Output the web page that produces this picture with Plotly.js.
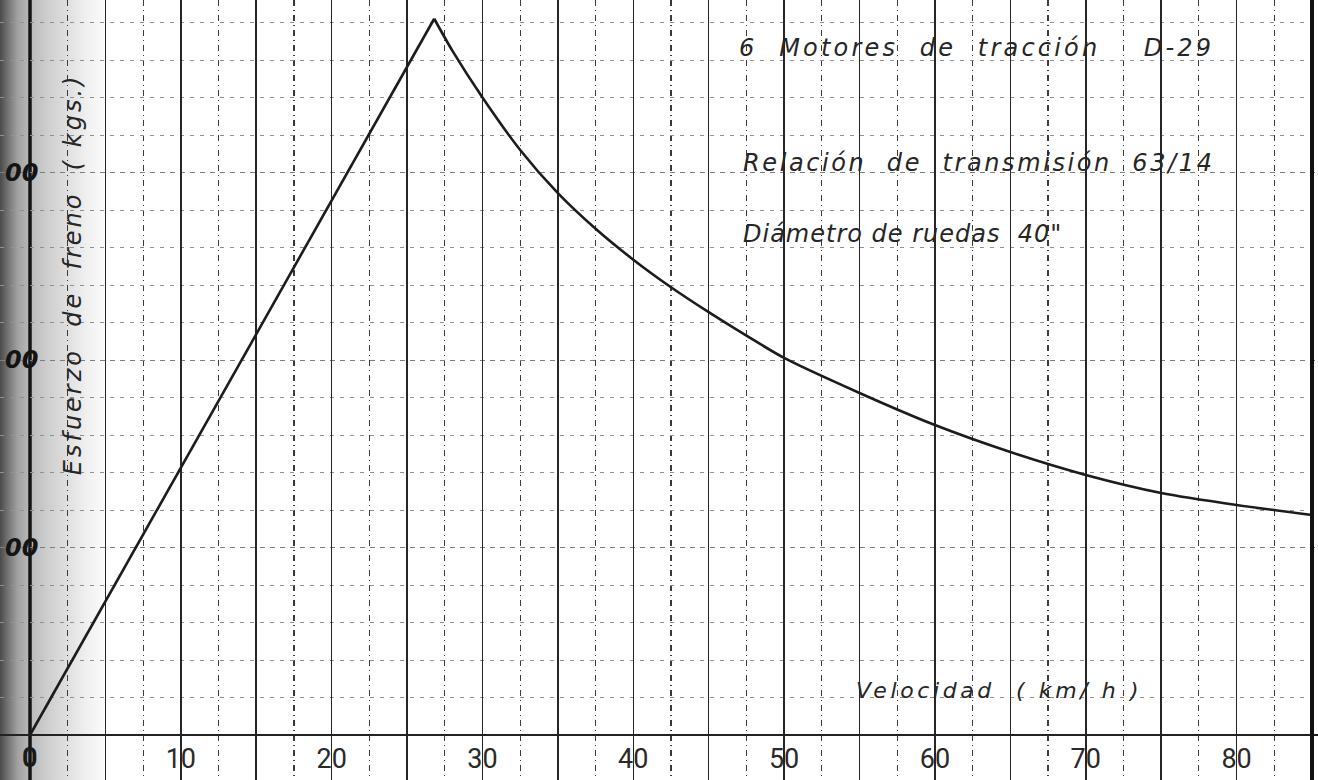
<!DOCTYPE html>
<html>
<head>
<meta charset="utf-8">
<script src="https://cdn.plot.ly/plotly-3.0.1.min.js"></script>
<style>
  html, body { margin: 0; padding: 0; }
  body {
    width: 1318px; height: 780px; overflow: hidden;
    background: linear-gradient(to right, #4a4a4a 0px, #747474 8px, #a2a2a2 18px, #bdbdbd 32px, #cecece 48px, #e0e0e0 68px, #f1f1f1 88px, #ffffff 112px);
  }
  #chart { width: 1318px; height: 780px; }
</style>
</head>
<body>
<div id="chart"></div>
<script>
// Speed (km/h) and braking effort
const speedKmh = [0, 26.8, 28, 30, 32.5, 35, 37.5, 40, 42.5, 45, 47.5, 50, 55, 60, 65, 70, 75, 80, 85];
const brakeEffort = [0, 3820, 3650, 3400, 3120, 2890, 2700, 2535, 2388, 2255, 2130, 2011, 1824, 1653, 1509, 1387, 1291, 1227, 1173];
const peakIndex = 1; // the rising straight line ends here, the falling curve starts here

// Axis ticks
const xTickVals = [10, 20, 30, 40, 50, 60, 70, 80];
const xTickText = ['10', '20', '30', '40', '50', '60', '70', '80'];
const yTickVals = [1000, 2000, 3000];
const yTickText = ['00', '00', '00']; // only the last digits are legible at the scan edge
const xMin = 0;
const xMax = 85;

// Texts
const nb = n => '\u00a0'.repeat(n);
const noteLines = [
  '6' + nb(2) + 'Motores' + nb(2) + 'de' + nb(2) + 'tracción' + nb(4) + 'D-29',
  'Relación' + nb(2) + 'de' + nb(2) + 'transmisión' + nb(2) + '63/14',
  'Diámetro' + nb(1) + 'de' + nb(1) + 'ruedas' + nb(2) + '40"'
];
const xTitle = 'Velocidad' + nb(2) + '(' + nb(1) + 'km/' + nb(1) + 'h' + nb(1) + ')';
const yTitle = 'Esfuerzo' + nb(2) + 'de' + nb(2) + 'freno' + nb(2) + '(' + nb(1) + 'kgs.)';
const spaced = (t, ls) => '<span style="letter-spacing:' + ls + 'px">' + t + '</span>';

const pxPerUnitX = (1312 - 30) / xMax;
const xRange = [-30 / pxPerUnitX, xMax + 6 / pxPerUnitX];
const yRange = [-240, 3920];

const ink = '#1c1c1c';
const textColor = '#262626';
const noteFont = { family: 'DejaVu Sans', size: 24, color: textColor, style: 'italic' };

const riseTrace = {
  x: speedKmh.slice(0, peakIndex + 1), y: brakeEffort.slice(0, peakIndex + 1),
  type: 'scatter', mode: 'lines', line: { color: ink, width: 2.6 },
  hoverinfo: 'skip', showlegend: false
};
const fallTrace = {
  x: speedKmh.slice(peakIndex), y: brakeEffort.slice(peakIndex),
  type: 'scatter', mode: 'lines', line: { color: ink, width: 2.6, shape: 'spline', smoothing: 0.7 },
  hoverinfo: 'skip', showlegend: false
};

const annotations = [
  { text: spaced(noteLines[0], 3.2), x: 0.5595, y: 3664 },
  { text: spaced(noteLines[1], 2.6), x: 0.5625, y: 3051 },
  { text: spaced(noteLines[2], 1.0), x: 0.5625, y: 2672 }
].map(a => ({
  text: a.text, xref: 'paper', yref: 'y', x: a.x, y: a.y,
  xanchor: 'left', yanchor: 'middle', showarrow: false, font: noteFont
}));
annotations.push({
  text: spaced(xTitle, 3.6), xref: 'paper', yref: 'y', x: 0.648, y: 240,
  xanchor: 'left', yanchor: 'middle', showarrow: false,
  font: { family: 'DejaVu Sans', size: 22, color: textColor, style: 'italic' }
});
annotations.push({
  text: spaced(yTitle, 3), xref: 'paper', yref: 'y', x: 0.055, y: 2460,
  xanchor: 'center', yanchor: 'middle', textangle: -90, showarrow: false,
  font: { family: 'DejaVu Sans', size: 24, color: textColor, style: 'italic' }
});
// the origin "0" under the axes
annotations.push({
  text: '<b>0</b>', xref: 'x', yref: 'y', x: xMin, y: -120,
  xanchor: 'center', yanchor: 'middle', showarrow: false,
  font: { family: 'Roboto', size: 27, color: '#1a1a1a' }
});

const layout = {
  width: 1318, height: 780,
  margin: { l: 0, r: 0, t: 0, b: 0, pad: 0 },
  paper_bgcolor: 'rgba(0,0,0,0)', plot_bgcolor: 'rgba(0,0,0,0)',
  showlegend: false,
  xaxis: {
    range: xRange, tickmode: 'array', tickvals: xTickVals, ticktext: xTickText,
    ticks: '', ticklabelposition: 'inside', ticklabelstandoff: 4,
    tickfont: { family: 'Roboto', size: 27, color: '#2a2a2a' },
    showgrid: false, zeroline: false, showline: false,
    minor: { tickmode: 'linear', tick0: 0, dtick: 2.5, showgrid: true, ticks: '', gridcolor: '#3a3a3a', gridwidth: 1.2, griddash: '6px,4px,1px,4px' }
  },
  xaxis2: {
    overlaying: 'x', range: xRange, tickmode: 'linear', tick0: 0, dtick: 5,
    showticklabels: false, ticks: '', showgrid: true, gridcolor: '#262626', gridwidth: 1.5,
    zeroline: false, showline: false, matches: 'x'
  },
  yaxis: {
    range: yRange, tickmode: 'array', tickvals: yTickVals, ticktext: yTickText,
    ticks: '', ticklabelposition: 'inside', ticklabelstandoff: 2,
    tickfont: { family: 'DejaVu Sans', size: 24, color: '#141414', style: 'italic', weight: 'bold' },
    showgrid: true, gridcolor: '#7e7e7e', gridwidth: 1, griddash: '5px,5px',
    zeroline: true, zerolinecolor: '#222', zerolinewidth: 2.2,
    showline: false,
    minor: { tickmode: 'linear', tick0: 0, dtick: 200, showgrid: true, ticks: '', gridcolor: '#909090', gridwidth: 1, griddash: '4px,6px' }
  },
  shapes: [
    // speed axis origin line (vertical axis of the sheet)
    { type: 'line', xref: 'x', yref: 'paper', x0: xMin, x1: xMin, y0: 0, y1: 1,
      line: { color: '#141414', width: 3.5 }, layer: 'below' },
    // right border of the sheet at the end of the speed scale
    { type: 'line', xref: 'x', yref: 'paper', x0: xMax, x1: xMax, y0: 0, y1: 1,
      line: { color: '#111', width: 4 }, layer: 'above' }
  ],
  annotations: annotations
};

const gridTrace = { x: [xMax], y: [0], xaxis: 'x2', yaxis: 'y', mode: 'markers', marker: { opacity: 0 }, hoverinfo: 'skip', showlegend: false };

Plotly.newPlot('chart', [gridTrace, riseTrace, fallTrace], layout, { displayModeBar: false, staticPlot: true });
</script>
</body>
</html>
